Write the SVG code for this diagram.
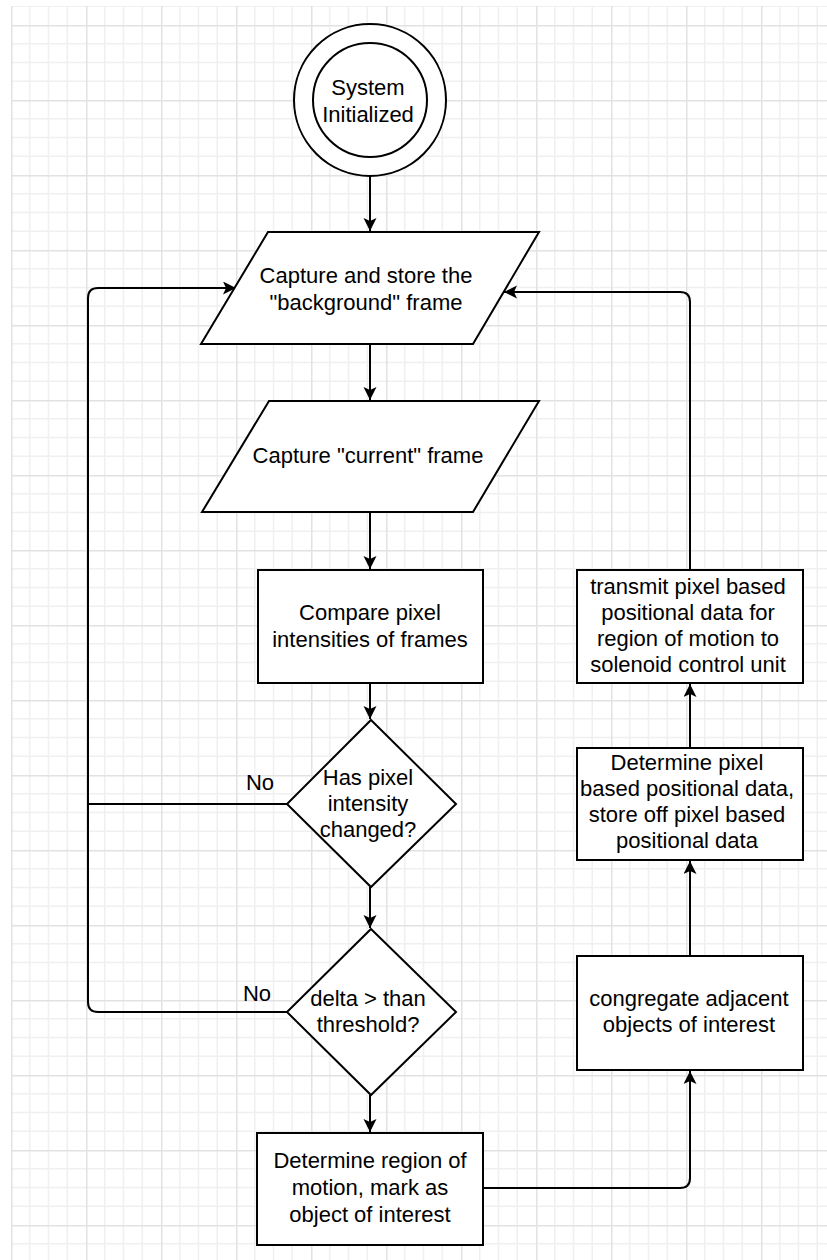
<svg xmlns="http://www.w3.org/2000/svg" width="827" height="1260" viewBox="0 0 827 1260">
<style>
.s{fill:#fff;stroke:#000;stroke-width:2}
.c{fill:none;stroke:#000;stroke-width:2}
.t{font-family:"Liberation Sans",Arial,sans-serif;font-size:22px;fill:#000;text-anchor:middle}
.mn{stroke:#f0f0f0;stroke-width:1.5}
.mj{stroke:#e2e2e2;stroke-width:1.5}
</style>
<defs>
<pattern id="grid" patternUnits="userSpaceOnUse" x="11" y="25" width="75" height="75">
<path class="mn" d="M18.75,0V75M37.5,0V75M56.25,0V75M0,18.75H75M0,37.5H75M0,56.25H75"/>
<path class="mj" d="M0.75,0V75M0,0.75H75"/>
</pattern>
<marker id="a" markerUnits="userSpaceOnUse" markerWidth="14" markerHeight="14" refX="13" refY="6.5" orient="auto">
<path d="M0,0 L13,6.5 L0,13 L3,6.5 z" fill="#000"/>
</marker>
</defs>
<rect x="0" y="0" width="827" height="1260" fill="#fff"/>
<rect x="11" y="6" width="816" height="1254" fill="url(#grid)"/>

<g id="connectors">
<path class="c" d="M370,176V231" marker-end="url(#a)"/>
<path class="c" d="M370,344V400" marker-end="url(#a)"/>
<path class="c" d="M370,512V569" marker-end="url(#a)"/>
<path class="c" d="M370,683V719" marker-end="url(#a)"/>
<path class="c" d="M370,887V928" marker-end="url(#a)"/>
<path class="c" d="M370,1095V1132" marker-end="url(#a)"/>
<path class="c" d="M287,804H88V298Q88,288 98,288H236" marker-end="url(#a)"/>
<path class="c" d="M287,1012H98Q88,1012 88,1002V804"/>
<path class="c" d="M483,1188H680Q690,1188 690,1178V1071" marker-end="url(#a)"/>
<path class="c" d="M690,956V861" marker-end="url(#a)"/>
<path class="c" d="M690,748V684" marker-end="url(#a)"/>
<path class="c" d="M690,570V302Q690,292 680,292H504" marker-end="url(#a)"/>
<text class="t" x="260" y="790">No</text>
<text class="t" x="257" y="1001">No</text>
</g>

<g id="start">
<circle class="s" cx="370" cy="100" r="76"/>
<circle class="s" cx="370" cy="100" r="57"/>
<text class="t" x="368" y="95">System</text>
<text class="t" x="368" y="122">Initialized</text>
</g>

<g id="capture-background">
<polygon class="s" points="268,232 539,232 473,344 201,344"/>
<text class="t" x="366" y="283">Capture and store the</text>
<text class="t" x="366" y="310">"background" frame</text>
</g>

<g id="capture-current">
<polygon class="s" points="269,401 539,401 473,512 202,512"/>
<text class="t" x="368" y="463">Capture "current" frame</text>
</g>

<g id="compare">
<rect class="s" x="258" y="570" width="225" height="113"/>
<text class="t" x="370" y="620">Compare pixel</text>
<text class="t" x="370" y="647">intensities of frames</text>
</g>

<g id="changed">
<polygon class="s" points="371,720 456,804 371,887 287,804"/>
<text class="t" x="368" y="785">Has pixel</text>
<text class="t" x="368" y="811">intensity</text>
<text class="t" x="368" y="837">changed?</text>
</g>

<g id="threshold">
<polygon class="s" points="371,929 456,1012 371,1095 287,1012"/>
<text class="t" x="368" y="1006">delta &gt; than</text>
<text class="t" x="368" y="1032">threshold?</text>
</g>

<g id="region">
<rect class="s" x="257" y="1133" width="226" height="112"/>
<text class="t" x="370" y="1168">Determine region of</text>
<text class="t" x="370" y="1195">motion, mark as</text>
<text class="t" x="370" y="1222">object of interest</text>
</g>

<g id="congregate">
<rect class="s" x="577" y="956" width="226" height="114"/>
<text class="t" x="689" y="1006">congregate adjacent</text>
<text class="t" x="689" y="1032">objects of interest</text>
</g>

<g id="positional">
<rect class="s" x="577" y="748" width="226" height="112"/>
<text class="t" x="687" y="770">Determine pixel</text>
<text class="t" x="687" y="796">based positional data,</text>
<text class="t" x="687" y="822">store off pixel based</text>
<text class="t" x="687" y="848">positional data</text>
</g>

<g id="transmit">
<rect class="s" x="577" y="570" width="226" height="113"/>
<text class="t" x="688" y="594">transmit pixel based</text>
<text class="t" x="688" y="620">positional data for</text>
<text class="t" x="688" y="646">region of motion to</text>
<text class="t" x="688" y="672">solenoid control unit</text>
</g>
</svg>
